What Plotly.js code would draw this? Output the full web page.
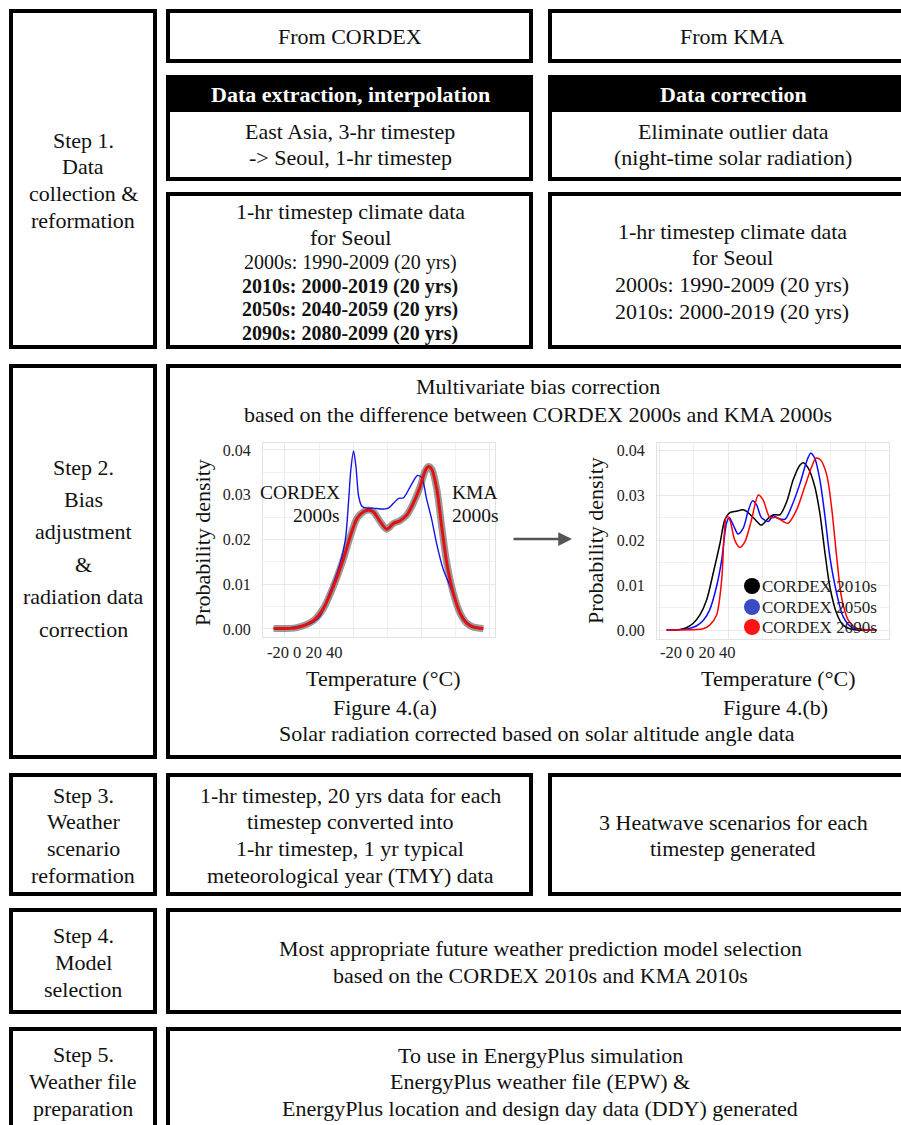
<!DOCTYPE html>
<html>
<head>
<meta charset="utf-8">
<script src="https://cdn.plot.ly/plotly-3.0.1.min.js"></script>
<style>
  html, body { margin: 0; padding: 0; background: #fff; }
  #chart { width: 901px; height: 1125px; }
</style>
</head>
<body>
<div id="chart"></div>
<script>
// ---------- Figure 4.(a): temperature density, CORDEX 2000s vs KMA 2000s ----------
const tempCordex2000 = [-23.3, -18.4, -13.5, -11.6, -9.6, -7.7, -5.8, -3.8, -2.3, -1.4, -0.7, 0.1, 0.8, 1.6, 2.5, 4.0, 5.9, 7.9, 10.3, 11.8, 13.3, 14.7, 16.7, 18.8, 20.1, 21.5, 23.0, 24.5, 26.4, 28.4, 30.3, 32.3, 34.2, 37.1];
const densCordex2000 = [0.0001, 0.0003, 0.0010, 0.0016, 0.0030, 0.0065, 0.0102, 0.0147, 0.0199, 0.0280, 0.0355, 0.0398, 0.0363, 0.0296, 0.0275, 0.0270, 0.0270, 0.0268, 0.0270, 0.0281, 0.0292, 0.0293, 0.0318, 0.0343, 0.0337, 0.0290, 0.0244, 0.0188, 0.0132, 0.0095, 0.0054, 0.0024, 0.0009, 0.0002];

const tempKma2000 = [-23.3, -16.5, -11.6, -8.7, -5.8, -2.8, -0.9, 1.1, 3.0, 4.5, 5.9, 7.9, 9.8, 11.8, 13.7, 15.7, 17.6, 19.6, 21.0, 22.0, 23.0, 24.5, 25.9, 27.4, 29.3, 31.3, 33.2, 35.2, 38.1];
const densKma2000 = [0.0001, 0.0003, 0.0019, 0.0046, 0.0095, 0.0158, 0.0206, 0.0247, 0.0262, 0.0266, 0.0262, 0.0240, 0.0223, 0.0236, 0.0242, 0.0255, 0.0281, 0.0318, 0.0352, 0.0363, 0.0357, 0.0311, 0.0229, 0.0147, 0.0080, 0.0035, 0.0013, 0.0004, 0.0001];

// ---------- Figure 4.(b): CORDEX 2010s / 2050s / 2090s ----------
const temp2010s = [-18.0, -14.1, -12.2, -10.2, -8.3, -6.3, -4.4, -2.4, -1.0, 0.5, 2.4, 4.4, 5.8, 7.8, 9.7, 11.7, 13.2, 15.1, 17.1, 19.0, 21.0, 21.9, 23.4, 25.3, 26.8, 28.3, 29.7, 31.7, 33.6, 36.5, 41.4];
const dens2010s = [0.0000, 0.0001, 0.0005, 0.0015, 0.0033, 0.0067, 0.0126, 0.0193, 0.0245, 0.0262, 0.0265, 0.0268, 0.0262, 0.0247, 0.0234, 0.0249, 0.0257, 0.0257, 0.0286, 0.0335, 0.0368, 0.0373, 0.0361, 0.0320, 0.0260, 0.0171, 0.0097, 0.0037, 0.0011, 0.0001, 0.0000];

const temp2050s = [-18.0, -12.2, -9.3, -7.3, -5.4, -3.4, -1.9, -0.5, 0.3, 1.5, 2.9, 4.4, 5.8, 7.1, 8.3, 9.7, 11.7, 13.2, 14.6, 16.6, 18.5, 21.0, 22.9, 24.1, 25.3, 26.8, 28.3, 29.7, 31.7, 33.6, 36.1, 39.5, 43.4];
const dens2050s = [0.0000, 0.0002, 0.0009, 0.0021, 0.0045, 0.0097, 0.0156, 0.0238, 0.0251, 0.0234, 0.0214, 0.0227, 0.0264, 0.0288, 0.0279, 0.0251, 0.0242, 0.0255, 0.0249, 0.0247, 0.0275, 0.0327, 0.0375, 0.0394, 0.0383, 0.0335, 0.0253, 0.0164, 0.0082, 0.0030, 0.0006, 0.0001, 0.0000];

const temp2090s = [-18.0, -9.3, -7.3, -5.4, -3.4, -1.9, -1.2, -0.5, 0.5, 1.9, 3.4, 4.9, 6.8, 8.8, 10.2, 12.2, 14.1, 16.1, 17.5, 20.0, 22.4, 24.4, 25.6, 27.0, 28.8, 30.2, 31.7, 33.1, 35.1, 37.5, 43.4];
const dens2090s = [0.0000, 0.0001, 0.0003, 0.0011, 0.0033, 0.0112, 0.0208, 0.0254, 0.0245, 0.0201, 0.0184, 0.0197, 0.0245, 0.0301, 0.0290, 0.0251, 0.0251, 0.0242, 0.0238, 0.0268, 0.0320, 0.0364, 0.0383, 0.0379, 0.0346, 0.0275, 0.0164, 0.0074, 0.0022, 0.0004, 0.0000];

// Axis tick labels and legend names
const densityTicks = [0, 0.01, 0.02, 0.03, 0.04];
const densityTickText = ['0.00', '0.01', '0.02', '0.03', '0.04'];
const tempTickText = ['-20', '0', '20', '40'];
const seriesNamesB = ['CORDEX 2010s', 'CORDEX 2050s', 'CORDEX 2090s'];
const seriesColorsB = ['#000000', '#0a0aff', '#ff0000'];
const legendDotColors = ['#000000', '#3a4cc4', '#ff1414'];

// ---------- page helpers (pixel -> paper) ----------
const W = 901, H = 1125;
const FONT = '"Liberation Serif", "Times New Roman", serif';
const X = p => p / W;
const Y = p => 1 - p / H;
const annotations = [];
const shapes = [];

function txt(s, x, y, opts) {
  annotations.push(Object.assign({
    text: s, x: X(x), y: Y(y), xref: 'paper', yref: 'paper', showarrow: false,
    xanchor: 'center', yanchor: 'middle',
    font: { family: FONT, size: 22, color: '#111' }
  }, opts || {}));
}
function lines(arr, cx, y0, dy, opts) {
  arr.forEach((s, i) => txt(s, cx, y0 + i * dy, opts));
}
const LW = 4;
function box(x0, y0, x1, y1) {
  shapes.push({
    type: 'rect', xref: 'paper', yref: 'paper', layer: 'above',
    x0: X(x0 + LW / 2), x1: X(x1 - LW / 2), y0: Y(y1 - LW / 2), y1: Y(y0 + LW / 2),
    line: { color: '#000', width: LW }, fillcolor: 'rgba(0,0,0,0)'
  });
}
function fill(x0, y0, x1, y1) {
  shapes.push({
    type: 'rect', xref: 'paper', yref: 'paper', layer: 'above',
    x0: X(x0), x1: X(x1), y0: Y(y1), y1: Y(y0),
    line: { width: 0 }, fillcolor: '#000'
  });
}

// ---------- Step 1 ----------
box(9, 9, 157, 349);
lines(['Step 1.', 'Data', 'collection &', 'reformation'], 83, 140, 26.7);

box(166, 9, 533, 63);
txt('From CORDEX', 350, 37);
box(548, 9, 912, 63);
txt('From KMA', 732, 37);

fill(166, 75, 533, 112);
box(166, 75, 533, 181);
txt('<b>Data extraction, interpolation</b>', 350, 95, { font: { family: FONT, size: 22, color: '#fff' } });
lines(['East Asia, 3-hr timestep', '-> Seoul, 1-hr timestep'], 350, 131, 26.5);

fill(548, 75, 912, 112);
box(548, 75, 912, 181);
txt('<b>Data correction</b>', 733, 95, { font: { family: FONT, size: 22, color: '#fff' } });
lines(['Eliminate outlier data', '(night-time solar radiation)'], 733, 131, 26.5);

box(166, 192, 533, 349);
lines(['1-hr timestep climate data', 'for Seoul'], 350, 211, 26);
txt('2000s: 1990-2009 (20 yrs)', 350, 262, { font: { family: FONT, size: 20, color: '#111' } });
lines(['<b>2010s: 2000-2019 (20 yrs)</b>', '<b>2050s: 2040-2059 (20 yrs)</b>', '<b>2090s: 2080-2099 (20 yrs)</b>'],
  350, 286, 23.5, { font: { family: FONT, size: 20, color: '#111' } });

box(548, 192, 912, 349);
lines(['1-hr timestep climate data', 'for Seoul', '2000s: 1990-2009 (20 yrs)', '2010s: 2000-2019 (20 yrs)'], 732, 231, 26.7);

// ---------- Step 2 ----------
box(9, 364, 157, 759);
lines(['Step 2.', 'Bias', 'adjustment', '&', 'radiation data', 'correction'], 83, 467, 32.4);
box(166, 364, 912, 759);
lines(['Multivariate bias correction', 'based on the difference between CORDEX 2000s and KMA 2000s'], 538, 387, 27);
txt('Solar radiation corrected based on solar altitude angle data', 537, 733);

// Figure labels and axis titles
txt('Probability density', 202, 543, { textangle: -90 });
txt('Probability density', 595, 541, { textangle: -90 });
txt('Temperature (°C)', 383, 678);
txt('Temperature (°C)', 778, 678);
txt('Figure 4.(a)', 385, 707);
txt('Figure 4.(b)', 775, 707);
txt(tempTickText.join(' '), 305, 652, { font: { family: FONT, size: 16.5, color: '#222' } });
txt(tempTickText.join(' '), 698, 652, { font: { family: FONT, size: 16.5, color: '#222' } });

// Curve labels in (a)
const lblA = { xanchor: 'right', font: { family: FONT, size: 19.5, color: '#111' } };
txt('CORDEX', 342, 492, lblA);
txt('2000s', 342, 515, lblA);
const lblK = { xanchor: 'left', font: { family: FONT, size: 19.5, color: '#111' } };
txt('KMA', 450, 492, lblK);
txt('2000s', 450, 515, lblK);

// Legend in (b)
const legY = [586, 607, 627];
seriesNamesB.forEach((name, i) => {
  shapes.push({
    type: 'circle', xref: 'paper', yref: 'paper', layer: 'above',
    x0: X(744), x1: X(760), y0: Y(legY[i] + 8), y1: Y(legY[i] - 8),
    line: { width: 0 }, fillcolor: legendDotColors[i]
  });
  txt(name, 760, legY[i], { xanchor: 'left', font: { family: FONT, size: 17, color: '#222' } });
});

// Arrow between the two panels
annotations.push({
  text: '', xref: 'paper', yref: 'paper', x: X(572), y: Y(539),
  ax: -60, ay: 0, showarrow: true, arrowhead: 2, arrowsize: 1.1,
  arrowwidth: 2.5, arrowcolor: '#555'
});

// ---------- Step 3 ----------
box(9, 773, 157, 896);
lines(['Step 3.', 'Weather', 'scenario', 'reformation'], 83, 795, 26.7);
box(166, 773, 533, 896);
lines(['1-hr timestep, 20 yrs data for each', 'timestep converted into', '1-hr timestep, 1 yr typical', 'meteorological year (TMY) data'], 350, 795, 26.7);
box(548, 773, 912, 896);
lines(['3 Heatwave scenarios for each', 'timestep generated'], 733, 822, 26.7);

// ---------- Step 4 ----------
box(9, 908, 157, 1014);
lines(['Step 4.', 'Model', 'selection'], 83, 935, 27);
box(166, 908, 912, 1014);
lines(['Most appropriate future weather prediction model selection', 'based on the CORDEX 2010s and KMA 2010s'], 540, 949, 26.5);

// ---------- Step 5 ----------
box(9, 1027, 157, 1140);
lines(['Step 5.', 'Weather file', 'preparation'], 83, 1054, 27);
box(166, 1027, 912, 1140);
lines(['To use in EnergyPlus simulation', 'EnergyPlus weather file (EPW) &', 'EnergyPlus location and design day data (DDY) generated'], 540, 1055, 26.7);

// ---------- traces ----------
const traces = [
  { x: tempKma2000, y: densKma2000, xaxis: 'x', yaxis: 'y', mode: 'lines',
    line: { color: 'rgba(70,70,70,0.55)', width: 7, shape: 'spline', smoothing: 0.8 }, hoverinfo: 'skip' },
  { x: tempCordex2000, y: densCordex2000, xaxis: 'x', yaxis: 'y', mode: 'lines', name: 'CORDEX 2000s',
    line: { color: '#1414e6', width: 1.4, shape: 'spline', smoothing: 0.8 } },
  { x: tempKma2000, y: densKma2000, xaxis: 'x', yaxis: 'y', mode: 'lines', name: 'KMA 2000s',
    line: { color: '#e41010', width: 3, shape: 'spline', smoothing: 0.8 } },
  { x: temp2010s, y: dens2010s, xaxis: 'x2', yaxis: 'y2', mode: 'lines', name: seriesNamesB[0],
    line: { color: seriesColorsB[0], width: 1.5, shape: 'spline', smoothing: 0.8 } },
  { x: temp2050s, y: dens2050s, xaxis: 'x2', yaxis: 'y2', mode: 'lines', name: seriesNamesB[1],
    line: { color: seriesColorsB[1], width: 1.5, shape: 'spline', smoothing: 0.8 } },
  { x: temp2090s, y: dens2090s, xaxis: 'x2', yaxis: 'y2', mode: 'lines', name: seriesNamesB[2],
    line: { color: seriesColorsB[2], width: 1.5, shape: 'spline', smoothing: 0.8 } }
];

function tempAxis(domain, range, anchor) {
  return {
    domain: domain, range: range, anchor: anchor,
    showticklabels: false, ticks: '', zeroline: false,
    tick0: -20, dtick: 20, showgrid: true, gridcolor: '#e9e9e9', gridwidth: 1,
    minor: { tick0: -10, dtick: 10, showgrid: true, gridcolor: '#f1f1f1', gridwidth: 1 },
    showline: true, mirror: true, linecolor: '#e2e2e2', linewidth: 1
  };
}
function densAxis(domain, range, anchor) {
  return {
    domain: domain, range: range, anchor: anchor,
    tickmode: 'array', tickvals: densityTicks, ticktext: densityTickText,
    tickfont: { family: FONT, size: 16, color: '#222' }, ticks: '', ticklabelstandoff: 8,
    zeroline: false, showgrid: true, gridcolor: '#e9e9e9', gridwidth: 1,
    minor: { dtick: 0.005, tick0: 0.005, showgrid: true, gridcolor: '#f1f1f1', gridwidth: 1 },
    showline: true, mirror: true, linecolor: '#e2e2e2', linewidth: 1
  };
}

const layout = {
  width: W, height: H,
  margin: { l: 0, r: 0, t: 0, b: 0 },
  paper_bgcolor: '#fff', plot_bgcolor: '#fff',
  showlegend: false,
  font: { family: FONT, color: '#111' },
  xaxis: tempAxis([X(263), X(495)], [-26.4, 41.5], 'y'),
  yaxis: densAxis([Y(637), Y(443)], [-0.0018, 0.04156], 'x'),
  xaxis2: tempAxis([X(657), X(889)], [-20.8, 47.0], 'y2'),
  yaxis2: densAxis([Y(639), Y(443)], [-0.002, 0.0417], 'x2'),
  shapes: shapes,
  annotations: annotations
};

Plotly.newPlot('chart', traces, layout, { displayModeBar: false, staticPlot: true });
</script>
</body>
</html>
